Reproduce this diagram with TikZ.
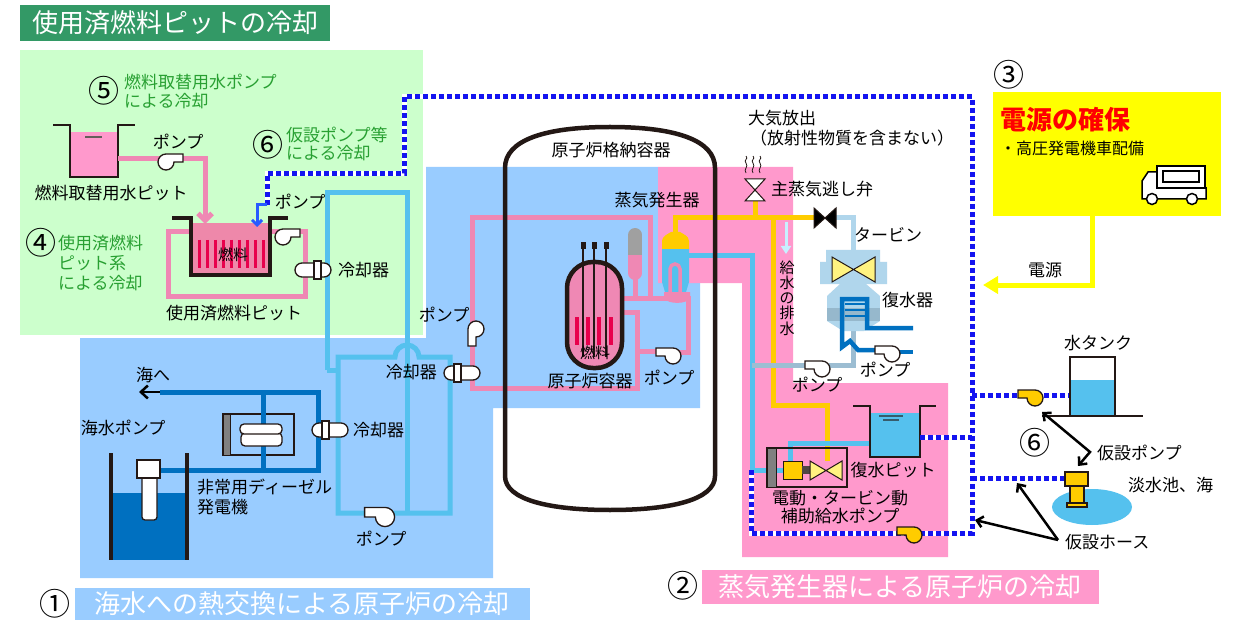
\documentclass[tikz,border=0pt]{standalone}
\usepackage{fontspec}
\setmainfont{Noto Sans CJK JP}
\usetikzlibrary{arrows.meta}
\definecolor{ttlgreen}{RGB}{51,153,102}
\definecolor{bggreen}{RGB}{204,255,204}
\definecolor{bgblue}{RGB}{153,204,255}
\definecolor{bgpink}{RGB}{255,153,204}
\definecolor{pipepink}{RGB}{239,136,180}
\definecolor{poolpink}{RGB}{238,136,170}
\definecolor{ccw}{RGB}{85,193,238}
\definecolor{sea}{RGB}{0,112,192}
\definecolor{steamy}{RGB}{255,204,0}
\definecolor{hoseblue}{RGB}{20,20,240}
\definecolor{arrblue}{RGB}{40,90,255}
\definecolor{txtgreen}{RGB}{40,160,50}
\definecolor{dark}{RGB}{35,24,21}
\definecolor{fuelred}{RGB}{232,0,76}
\definecolor{tblue}{RGB}{176,214,236}
\definecolor{cdark}{RGB}{150,184,204}
\definecolor{cline}{RGB}{156,189,210}
\definecolor{drainc}{RGB}{200,240,255}
\definecolor{pwr}{RGB}{255,255,0}
\definecolor{prgray}{RGB}{160,160,160}
\definecolor{tyellow}{RGB}{255,243,128}
\begin{document}
\begin{tikzpicture}[x=1pt,y=-1pt,
  lbl/.style={font=\fontsize{17}{19}\selectfont,inner sep=0pt},
  glbl/.style={lbl,text=txtgreen,align=left},
  num/.style={font=\fontsize{31}{31}\selectfont,inner sep=0pt},
  ttl/.style={font=\fontsize{26}{28}\selectfont,text=white,inner sep=0pt},
  pinkpipe/.style={draw=pipepink,line width=5pt},
  ccwpipe/.style={draw=ccw,line width=5pt},
  seapipe/.style={draw=sea,line width=5pt},
  steampipe/.style={draw=steamy,line width=5pt},
  hose/.style={draw=white,line width=5pt,postaction={draw=hoseblue,line width=5pt,dash pattern=on 5pt off 3pt}},
  wall/.style={draw=dark,line width=4.5pt},
  callout/.style={draw=black,line width=2.5pt,-{Straight Barb[length=6pt,width=11pt]}},
  pump/.pic={\draw[draw=dark,line width=1.3pt,fill=#1] (-17,-8) -- (0,-8) arc[start angle=-90,end angle=180,radius=8] -- (-17,0) -- cycle;},
  cooler/.pic={\draw[draw=dark,line width=1.3pt,fill=white,rounded corners=7pt] (-18,-7) rectangle (18,7);
    \draw[draw=dark,line width=1.3pt,fill=white] (-8,-9) rectangle (-1,9);},
  valve/.pic={\draw[draw=dark,line width=1pt,fill=#1] (-11,-10) -- (11,10) -- (11,-10) -- (-11,10) -- cycle;}]
  \useasboundingbox (0,0) rectangle (1260,620);
  \fill[white] (0,0) rectangle (1260,620);
  \fill[bggreen] (20,50) rectangle (423,335);
  \fill[bgblue] (426,167) -- (658,167) -- (658,283) -- (700,283) -- (700,408) -- (493,408) -- (493,578) -- (80,578) -- (80,338) -- (426,338) -- cycle;
  \fill[bgpink] (658,167) -- (793,167) -- (793,383) -- (948,383) -- (948,557) -- (742,557) -- (742,283) -- (658,283) -- cycle;

  \node[ttl,fill=ttlgreen,minimum width=310pt,minimum height=36pt] (ttlpool) at (175,23) {使用済燃料ピットの冷却};
  \node[ttl,fill=bgblue,minimum width=455pt,minimum height=32pt] (ttlsea) at (302,604) {海水への熱交換による原子炉の冷却};
  \node[ttl,fill=bgpink,minimum width=397pt,minimum height=34pt] (ttlsg) at (900,587) {蒸気発生器による原子炉の冷却};
  \node[num] (n1) at (55,604) {①};
  \node[num] (n2) at (683,586) {②};
  \node[num] (n3) at (1009,75) {③};
  \node[num] (n4) at (41,243) {④};
  \node[num] (n5) at (104,91) {⑤};
  \node[num] (n6a) at (268,145) {⑥};
  \node[num] (n6b) at (1035,443) {⑥};

  % power
  \node[fill=pwr,minimum width=228pt,minimum height=124pt,inner sep=0pt] (pwrbox) at (1107,154) {};
  \node[font=\fontsize{26}{28}\selectfont\bfseries,text=red,inner sep=0pt,anchor=west] (pwrttl) at (1000,120) {電源の確保};
  \node[font=\fontsize{16}{18}\selectfont,inner sep=0pt,anchor=west] (pwrsub) at (1000,148) {・高圧発電機車配備};
  \draw[draw=black,line width=1.5pt,fill=white] (1142,199) -- (1142,181) -- (1148,172) -- (1158,172) -- (1158,188) -- (1206,188) -- (1206,199) -- cycle;
  \draw[draw=black,line width=1.5pt,fill=white] (1157,166) rectangle (1205,188);
  \draw[draw=black,line width=1.5pt] (1163,171) rectangle (1199,182);
  \draw[draw=black,line width=1.5pt,fill=white] (1152,199) circle (5.5) (1192,199) circle (5.5);
  \coordinate (pwrend) at (983,285);
  \draw[draw=pwr,line width=5pt,-{Triangle[length=15pt,width=17pt]}] ([xshift=-15pt]pwrbox.south) |- (pwrend);
  \node[lbl] (pwrlbl) at (1045,270) {電源};

  % spent fuel pit
  \fill[bgpink] (70,132) rectangle (118,177);
  \draw[draw=dark,line width=1.5pt] (53,125) -- (70,125) -- (70,177) -- (118,177) -- (118,125) -- (135,125);
  \draw[draw=dark!70,line width=1.5pt] (85,137) -- (102,137);
  \draw[pinkpipe,-{Straight Barb[length=7pt,width=14pt]}] (118,159) -- (205,159) -- (205,224);
  \pic[xscale=-1] at (166,162) {pump=white};
  \fill[poolpink] (191,223) rectangle (270,273);
  \foreach \i in {0,...,8}
    \draw[draw=fuelred,line width=3pt] (199+8*\i,240) -- (199+8*\i,268);
  \node[font=\fontsize{15}{16}\selectfont,inner sep=0pt] (poolfuel) at (233,255) {燃料};
  \draw[pinkpipe] (191,232) -- (168,232) -- (168,296) -- (305,296) -- (305,232) -- (270,232);
  \draw[wall] (172,218) -- (191,218) -- (191,275) -- (270,275) -- (270,218) -- (288,218);
  \pic[xscale=-1] at (283,237) {pump=white};

  % component cooling water
  \draw[ccwpipe] (327,370) -- (327,193) -- (407,193) -- (407,513);
  \draw[ccwpipe] (327,370) -- (338,370);
  \draw[ccwpipe] (338,357) -- (395,357) arc[start angle=180,end angle=360,radius=12] -- (450,357) -- (450,513) -- (338,513) -- cycle;
  \pic[scale=1.2] at (385,517) {pump=white};
  \pic[xscale=-1] at (313,270) {cooler};

  % sea water
  \draw[seapipe] (160,470) -- (318,470) -- (318,392) -- (160,392);
  \draw[draw=dark,line width=1.3pt] (223,414) rectangle (294,455);
  \draw[seapipe] (263,392) -- (263,470);
  \draw[fill=gray,draw=dark,line width=1pt] (223,414) rectangle (230,455);
  \draw[fill=white,draw=dark,line width=1.3pt,rounded corners=4pt] (241,433) rectangle (282,446);
  \draw[fill=white,draw=dark,line width=1.3pt,rounded corners=4pt] (240,424) rectangle (282,434);
  \draw[draw=black,line width=2.5pt,-{Straight Barb[length=7pt,width=13pt]}] (160,392) -- (139,392);
  \fill[sea] (111,493) rectangle (187,560);
  \draw[wall] (111,453) -- (111,560);
  \draw[wall] (187,453) -- (187,560);
  \draw[fill=white,draw=dark,line width=1.3pt,rounded corners=3pt] (142,476) rectangle (157,520);
  \draw[fill=white,draw=dark,line width=1.3pt] (137,460) rectangle (160,478);
  \pic at (330,430) {cooler};

  % primary side
  \draw[pinkpipe] (650,298) -- (650,218) -- (472,218) -- (472,388) -- (637,388) -- (637,312) -- (622,312);
  \draw[pinkpipe] (637,351) -- (660,351);
  \draw[pinkpipe] (610,298) -- (688,298) -- (688,352) -- (678,352);
  \draw[pinkpipe] (635,275) -- (635,298);
  \pic[rotate=90] at (476,329) {pump=white};
  \pic at (673,356) {pump=white};
  \pic at (462,373) {cooler};

  % steam generator
  \fill[ccw] (662,248) -- (689,248) -- (689,282) -- (686,292) -- (665,292) -- (662,282) -- cycle;
  \fill[steamy] (662,249) -- (662,241) .. controls (662,236) and (668,234) .. (671,232) -- (680,232) .. controls (683,234) and (689,236) .. (689,241) -- (689,249) -- cycle;
  \draw[draw=pipepink,line width=3.5pt] (670,296) -- (670,269) arc[start angle=180,end angle=360,radius=5] -- (680,296);
  \fill[pipepink] (664,292) -- (690,292) -- (690,298) .. controls (688,304) and (668,305) .. (664,298) -- cycle;

  % secondary side
  \draw[steampipe] (675,233) -- (675,218) -- (814,218);
  \draw[steampipe] (755,218) -- (755,200);
  \draw[steampipe] (773,218) -- (773,405) -- (827,405) -- (827,461);
  \draw[ccwpipe] (689,256) -- (752,256) -- (752,470) -- (783,470);
  \draw[draw=cline,line width=5pt] (752,365) -- (814,365);
  \draw[draw=cline,line width=5pt] (829,365) -- (853,365) -- (853,330);
  \draw[draw=tblue,line width=5pt] (836,218) -- (853,218) -- (853,252);
  \pic at (825,218) {valve=black};
  \pic[rotate=90] at (755,190) {valve=white};
  \foreach \x in {746,753,760}
    \draw[draw=dark,line width=0.8pt] (\x,173) .. controls (\x-3,169) and (\x+3,167) .. (\x,163) .. controls (\x-3,160) and (\x+3,159) .. (\x,156);
  \draw[draw=drainc,line width=3pt,-{Triangle[length=8pt,width=10pt]}] (786,222) -- (786,254);

  % turbine and condenser
  \fill[tblue] (826,250) -- (880,250) -- (880,262) -- (887,262) -- (887,284) -- (820,284) -- (820,262) -- (826,262) -- cycle;
  \draw[draw=dark,line width=1pt,fill=tyellow] (832,257) -- (875,282) -- (875,257) -- (832,282) -- cycle;
  \fill[tblue] (840,284) -- (866,284) -- (880,296) -- (827,296) -- cycle;
  \fill[tblue] (827,296) rectangle (880,308);
  \fill[cdark] (827,308) rectangle (880,321);
  \fill[tblue] (827,321) -- (880,321) -- (864,331) -- (843,331) -- cycle;
  \foreach \y in {304,310,316}
    \draw[draw=sea,line width=1.5pt] (845,\y) -- (865,\y);
  \draw[draw=sea,line width=4.5pt] (913,328) -- (867,328) -- (867,299) -- (842,299) -- (842,347) -- (850,341) -- (858,350) -- (876,350);
  \draw[draw=sea,line width=4.5pt] (898,352) -- (913,352);
  \pic at (892,354) {pump=white};
  \pic at (822,369) {pump=white};

  % auxiliary feedwater
  \draw[ccwpipe] (870,443) -- (790,443) -- (790,461);
  \draw[draw=dark,line width=1.3pt] (767,448) rectangle (847,487);
  \draw[fill=gray,draw=dark,line width=1pt] (767,448) rectangle (776,487);
  \draw[fill=steamy,draw=dark,line width=1pt] (783,461) rectangle (802,479);
  \fill[dark!80] (802,466) rectangle (810,474);
  \draw[draw=dark,line width=1pt,fill=tyellow] (810,461) -- (842,480) -- (842,461) -- (810,480) -- cycle;
  \fill[ccw] (870,413) rectangle (920,457);
  \draw[draw=dark,line width=1.5pt] (853,406) -- (870,406) -- (870,457) -- (920,457) -- (920,406) -- (936,406);
  \draw[draw=dark!60!ccw,line width=1.2pt] (879,416) -- (903,416) (883,420) -- (899,420);

  % vessel, pressurizer, containment
  \draw[draw=dark,line width=4.5pt,fill=pipepink,rounded corners=26pt] (567,262) rectangle (622,368);
  \foreach \x in {577,588,599,611}
    \draw[draw=fuelred,line width=4pt] (\x,317) -- (\x,345);
  \foreach \x in {583,594,606} {
    \draw[draw=dark,line width=1.2pt] (\x,246) -- (\x,357);
    \fill[dark] (\x-2.5,242) rectangle (\x+2.5,249);
  }
  \begin{scope}
    \path[clip,rounded corners=7pt] (628,228) rectangle (642,280);
    \fill[prgray] (628,228) rectangle (642,255);
    \fill[pipepink] (628,255) rectangle (642,280);
  \end{scope}
  \draw[wall] (505,476) -- (505,168) .. controls (505,140) and (545,127) .. (610,127) .. controls (675,127) and (715,140) .. (715,168) -- (715,476) .. controls (715,500) and (670,510) .. (610,510) .. controls (550,510) and (505,500) .. (505,476);

  % temporary hoses
  \draw[hose] (267,205) -- (267,174) -- (404,174) -- (404,97) -- (972,97) -- (972,533) -- (751,533) -- (751,470);
  \draw[hose] (972,395) -- (1070,395);
  \draw[hose] (920,437) -- (972,437);
  \draw[hose] (972,478) -- (1066,478);
  \draw[draw=arrblue,line width=3pt,-{Straight Barb[length=5pt,width=10pt]}] (267,205) -- (257,205) -- (257,227);
  \pic at (1035,398) {pump=steamy};
  \pic at (914,535) {pump=steamy};
  \fill[ccw] (1070,380) rectangle (1115,416);
  \draw[draw=dark,line width=1.5pt] (1070,357) rectangle (1115,416);
  \draw[draw=dark,line width=1.5pt] (1042,416) -- (1143,416);
  \fill[ccw] (1092,507) ellipse (40 and 18);
  \draw[fill=steamy,draw=dark,line width=1.2pt] (1070,486) rectangle (1084,503);
  \draw[fill=steamy,draw=dark,line width=1.2pt] (1065,472) rectangle (1088,486);
  \draw[fill=steamy,draw=dark,line width=1.2pt] (1067,503) rectangle (1087,507);
  \coordinate (tankpump) at (1042,412);
  \coordinate (pondpump) at (1078,466);
  \coordinate (tpv) at (1090,452);
  \coordinate (hosemain) at (975,520);
  \coordinate (hosepond) at (1017,483);
  \coordinate (thv) at (1058,540);
  \draw[draw=black,line width=2.5pt,{Straight Barb[length=6pt,width=11pt]}-{Straight Barb[length=6pt,width=11pt]}] (tankpump) -- (tpv) -- (pondpump);
  \draw[callout] (thv) -- (hosemain);
  \draw[callout] (thv) -- (hosepond);

  % labels
  \node[glbl] (g5) at (124,91) [anchor=west,font=\fontsize{17}{19}\selectfont] {燃料取替用水ポンプ\\による冷却};
  \node[glbl] (g6) at (286,144) [anchor=west,font=\fontsize{17}{18.5}\selectfont] {仮設ポンプ等\\による冷却};
  \node[glbl] (g4) at (58,263) [anchor=west,font=\fontsize{17}{20}\selectfont] {使用済燃料\\ピット系\\による冷却};
  \node[lbl] (lrwp) at (178,142) {ポンプ};
  \node[lbl] (lrwpit) at (111,193) {燃料取替用水ピット};
  \node[lbl] (lpoolp) at (300,202) {ポンプ};
  \node[lbl,anchor=west] (lpoolc) at (338,270) {冷却器};
  \node[lbl] (lpool) at (234,313) {使用済燃料ピット};
  \node[lbl] (lsea) at (153,375) {海へ};
  \node[lbl] (lswp) at (123,428) {海水ポンプ};
  \node[lbl,anchor=west] (ldgc) at (353,430) {冷却器};
  \node[lbl,anchor=west,align=left,font=\fontsize{17}{20}\selectfont] (ldg) at (197,497) {非常用ディーゼル\\発電機};
  \node[lbl] (lccwp) at (381,539) {ポンプ};
  \node[lbl,anchor=east] (lrhrc) at (437,372) {冷却器};
  \node[lbl] (lrhrp) at (444,315) {ポンプ};
  \node[lbl] (lcv) at (611,150) {原子炉格納容器};
  \node[lbl] (lsg) at (657,200) {蒸気発生器};
  \node[lbl] (lrv) at (590,381) {原子炉容器};
  \node[font=\fontsize{15}{16}\selectfont,inner sep=0pt] (lrvfuel) at (595,353) {燃料};
  \node[lbl] (lrcp) at (669,378) {ポンプ};
  \node[lbl,anchor=west] (latm) at (748,118) {大気放出};
  \node[lbl,anchor=west] (latm2) at (750,138) {（放射性物質を含まない）};
  \node[lbl,anchor=west] (lmsrv) at (771,189) {主蒸気逃し弁};
  \node[lbl] (ltb) at (888,235) {タービン};
  \node[lbl,anchor=west] (lcond) at (882,300) {復水器};
  \node[font=\fontsize{15}{15.3}\selectfont,inner sep=0pt,align=center] (ldrain) at (787,298) {給\\水\\の\\排\\水};
  \node[lbl] (lcwp) at (885,370) {ポンプ};
  \node[lbl] (lcdp) at (817,385) {ポンプ};
  \node[lbl] (lcpit) at (893,470) {復水ピット};
  \node[lbl,align=center,font=\fontsize{17}{18}\selectfont] (lafw) at (840,507) {電動・タービン動\\補助給水ポンプ};
  \node[lbl] (ltank) at (1098,343) {水タンク};
  \node[lbl,anchor=west] (ltmpp) at (1097,453) {仮設ポンプ};
  \node[lbl,anchor=west] (lpond) at (1128,485) {淡水池、海};
  \node[lbl,anchor=west] (ltmph) at (1065,542) {仮設ホース};
\end{tikzpicture}
\end{document}
